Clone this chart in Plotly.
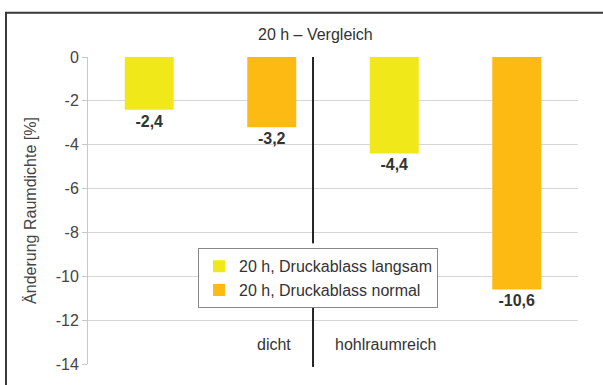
import plotly.graph_objects as go

# Change of bulk density after 20 h, per sample type and pressure release mode
categories = [0, 1, 2, 3]
langsam_x = [0, 2]
langsam_values = [-2.4, -4.4]
normal_x = [1, 3]
normal_values = [-3.2, -10.6]
series_names = ["20 h, Druckablass langsam", "20 h, Druckablass normal"]
group_labels = ["dicht", "hohlraumreich"]
y_ticks = [0, -2, -4, -6, -8, -10, -12, -14]

YELLOW = "#F0E819"
ORANGE = "#FDBA13"
FONT = "Liberation Sans, Arial, sans-serif"


def fmt(v):
    return "<b>" + f"{v:.1f}".replace(".", ",") + "</b>"


fig = go.Figure()
for xs, vals, name, color in [
    (langsam_x, langsam_values, series_names[0], YELLOW),
    (normal_x, normal_values, series_names[1], ORANGE),
]:
    fig.add_trace(go.Bar(
        x=xs, y=vals, name=name, marker=dict(color=color, line=dict(width=0)),
        width=0.4, text=[fmt(v) for v in vals], textposition="outside",
        textfont=dict(size=16, color="#333333", family=FONT),
        cliponaxis=False,
    ))

# plot area geometry (pixels) used to place the frame and divider
W, H = 603, 385
L, R, T, B = 88, 25, 57, 15
pw, ph = W - L - R, H - T - B


def px_x(p):
    return (p - L) / pw


def px_y(p):
    return (H - B - p) / ph


div_x = 1.337
shapes = [
    # outer frame
    dict(type="rect", xref="paper", yref="paper",
         x0=px_x(6), x1=px_x(640), y0=px_y(420), y1=px_y(12),
         line=dict(color="#3a3a3a", width=2), fillcolor="rgba(0,0,0,0)", layer="below"),
    # divider between sample groups
    dict(type="line", xref="x", yref="paper", x0=div_x, x1=div_x,
         y0=px_y(247), y1=px_y(57), line=dict(color="#222222", width=2)),
    dict(type="line", xref="x", yref="paper", x0=div_x, x1=div_x,
         y0=px_y(373), y1=px_y(311), line=dict(color="#222222", width=2)),
]

annotations = [
    dict(text="20 h – Vergleich", xref="paper", yref="paper", x=px_x(315), y=px_y(34),
         xanchor="center", yanchor="middle", showarrow=False,
         font=dict(size=16, color="#333333", family=FONT)),
    dict(text=group_labels[0], xref="x", yref="paper", x=div_x, xanchor="right", xshift=-20,
         y=px_y(350), yanchor="middle", showarrow=False,
         font=dict(size=16, color="#333333", family=FONT)),
    dict(text=group_labels[1], xref="x", yref="paper", x=div_x, xanchor="left", xshift=20,
         y=px_y(350), yanchor="middle", showarrow=False,
         font=dict(size=16, color="#333333", family=FONT)),
]

fig.update_layout(
    width=W, height=H, margin=dict(l=L, r=R, t=T, b=B),
    paper_bgcolor="white", plot_bgcolor="white",
    barmode="overlay", showlegend=True,
    font=dict(family=FONT, color="#333333", size=16),
    xaxis=dict(range=[-0.5, 3.5], showticklabels=False, showgrid=False,
               zeroline=False, showline=False, ticks=""),
    yaxis=dict(range=[-14, 0], tickvals=y_ticks, ticktext=[str(v) for v in y_ticks],
               showgrid=True, gridcolor="#D6D6D6", gridwidth=1, zeroline=False,
               showline=True, linecolor="#C8C8C8", linewidth=1,
               ticks="outside", ticklen=5, tickcolor="#C8C8C8",
               tickfont=dict(size=16, color="#444444"),
               title=dict(text="Änderung Raumdichte [%]", standoff=15,
                          font=dict(size=16, color="#444444"))),
    legend=dict(x=px_x(198), y=px_y(252), xanchor="left", yanchor="top",
                bgcolor="white", bordercolor="#888888", borderwidth=1,
                font=dict(size=16, color="#333333", family=FONT),
                itemwidth=30, tracegroupgap=0),
    shapes=shapes, annotations=annotations,
)

fig.write_html("out.html")
